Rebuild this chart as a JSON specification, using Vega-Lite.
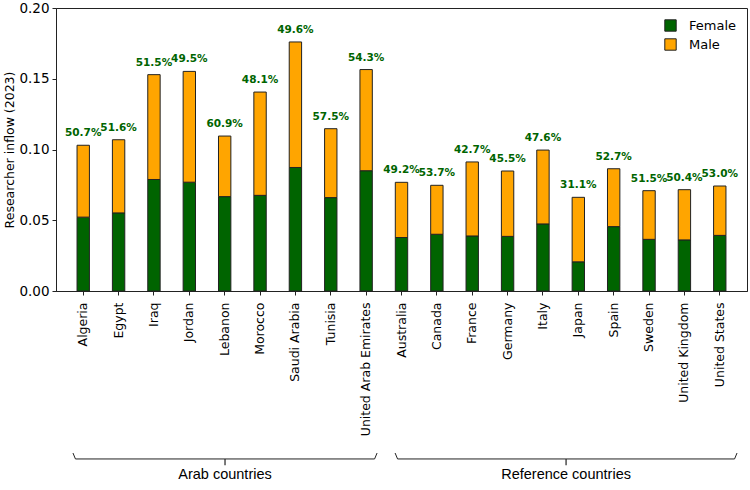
{
  "$schema": "https://vega.github.io/schema/vega-lite/v6.json",
  "autosize": "none",
  "width": 691,
  "height": 283,
  "padding": {"left": 56, "top": 8, "right": 3, "bottom": 199},
  "background": "white",
  "config": {
    "font": "DejaVu Sans",
    "view": {"stroke": "#222", "strokeWidth": 1},
    "axis": {"grid": false, "domainColor": "#222", "tickColor": "#222", "labelColor": "#000", "titleColor": "#000"}
  },
  "datasets": {
    "bars": [
      {"country": "Algeria", "sex": "Female", "value": 0.0522},
      {"country": "Algeria", "sex": "Male", "value": 0.0508},
      {"country": "Egypt", "sex": "Female", "value": 0.0552},
      {"country": "Egypt", "sex": "Male", "value": 0.0517},
      {"country": "Iraq", "sex": "Female", "value": 0.0788},
      {"country": "Iraq", "sex": "Male", "value": 0.0741},
      {"country": "Jordan", "sex": "Female", "value": 0.0769},
      {"country": "Jordan", "sex": "Male", "value": 0.0783},
      {"country": "Lebanon", "sex": "Female", "value": 0.0667},
      {"country": "Lebanon", "sex": "Male", "value": 0.0428},
      {"country": "Morocco", "sex": "Female", "value": 0.0676},
      {"country": "Morocco", "sex": "Male", "value": 0.0730},
      {"country": "Saudi Arabia", "sex": "Female", "value": 0.0873},
      {"country": "Saudi Arabia", "sex": "Male", "value": 0.0887},
      {"country": "Tunisia", "sex": "Female", "value": 0.0660},
      {"country": "Tunisia", "sex": "Male", "value": 0.0487},
      {"country": "United Arab Emirates", "sex": "Female", "value": 0.0850},
      {"country": "United Arab Emirates", "sex": "Male", "value": 0.0715},
      {"country": "Australia", "sex": "Female", "value": 0.0378},
      {"country": "Australia", "sex": "Male", "value": 0.0390},
      {"country": "Canada", "sex": "Female", "value": 0.0401},
      {"country": "Canada", "sex": "Male", "value": 0.0346},
      {"country": "France", "sex": "Female", "value": 0.0389},
      {"country": "France", "sex": "Male", "value": 0.0523},
      {"country": "Germany", "sex": "Female", "value": 0.0386},
      {"country": "Germany", "sex": "Male", "value": 0.0462},
      {"country": "Italy", "sex": "Female", "value": 0.0474},
      {"country": "Italy", "sex": "Male", "value": 0.0522},
      {"country": "Japan", "sex": "Female", "value": 0.0206},
      {"country": "Japan", "sex": "Male", "value": 0.0456},
      {"country": "Spain", "sex": "Female", "value": 0.0455},
      {"country": "Spain", "sex": "Male", "value": 0.0409},
      {"country": "Sweden", "sex": "Female", "value": 0.0365},
      {"country": "Sweden", "sex": "Male", "value": 0.0344},
      {"country": "United Kingdom", "sex": "Female", "value": 0.0361},
      {"country": "United Kingdom", "sex": "Male", "value": 0.0355},
      {"country": "United States", "sex": "Female", "value": 0.0393},
      {"country": "United States", "sex": "Male", "value": 0.0349}
    ],
    "labels": [
      {"country": "Algeria", "total": 0.1030, "label": "50.7%"},
      {"country": "Egypt", "total": 0.1069, "label": "51.6%"},
      {"country": "Iraq", "total": 0.1529, "label": "51.5%"},
      {"country": "Jordan", "total": 0.1552, "label": "49.5%"},
      {"country": "Lebanon", "total": 0.1095, "label": "60.9%"},
      {"country": "Morocco", "total": 0.1406, "label": "48.1%"},
      {"country": "Saudi Arabia", "total": 0.1760, "label": "49.6%"},
      {"country": "Tunisia", "total": 0.1147, "label": "57.5%"},
      {"country": "United Arab Emirates", "total": 0.1565, "label": "54.3%"},
      {"country": "Australia", "total": 0.0768, "label": "49.2%"},
      {"country": "Canada", "total": 0.0747, "label": "53.7%"},
      {"country": "France", "total": 0.0912, "label": "42.7%"},
      {"country": "Germany", "total": 0.0848, "label": "45.5%"},
      {"country": "Italy", "total": 0.0996, "label": "47.6%"},
      {"country": "Japan", "total": 0.0662, "label": "31.1%"},
      {"country": "Spain", "total": 0.0864, "label": "52.7%"},
      {"country": "Sweden", "total": 0.0709, "label": "51.5%"},
      {"country": "United Kingdom", "total": 0.0716, "label": "50.4%"},
      {"country": "United States", "total": 0.0742, "label": "53.0%"}
    ],
    "braces": [
      {"group": "Arab countries", "pos": -0.29, "lev": -0.1145, "k": 1},
      {"group": "Arab countries", "pos": -0.22, "lev": -0.1187, "k": 2},
      {"group": "Arab countries", "pos": 8.24, "lev": -0.1187, "k": 3},
      {"group": "Arab countries", "pos": 8.31, "lev": -0.1145, "k": 4},
      {"group": "Reference countries", "pos": 8.82, "lev": -0.1145, "k": 1},
      {"group": "Reference countries", "pos": 8.89, "lev": -0.1187, "k": 2},
      {"group": "Reference countries", "pos": 18.42, "lev": -0.1187, "k": 3},
      {"group": "Reference countries", "pos": 18.49, "lev": -0.1145, "k": 4}
    ],
    "groups": [
      {"group": "Arab countries", "mid": 4.01, "top": -0.1187, "tip": -0.1232, "textLev": -0.1248},
      {"group": "Reference countries", "mid": 13.655, "top": -0.1187, "tip": -0.1232, "textLev": -0.1248}
    ]
  },
  "layer": [
    {
      "layer": [
        {
          "data": {"name": "bars"},
          "mark": {"type": "bar", "stroke": "#222", "strokeWidth": 1},
          "encoding": {
            "x": {
              "field": "country", "type": "nominal", "sort": null,
              "scale": {"paddingInner": 0.65, "paddingOuter": 0.595},
              "axis": {"title": null, "labelAngle": -90, "labelAlign": "right", "labelBaseline": "middle", "labelFontSize": 12.5, "labelPadding": 7, "tickSize": 4}
            },
            "y": {
              "field": "value", "type": "quantitative", "stack": "zero",
              "scale": {"domain": [0, 0.2], "nice": false},
              "axis": {"title": "Researcher inflow (2023)", "titleFontSize": 12.5, "titleFontWeight": "normal", "titlePadding": 2, "labelFontSize": 13.5, "format": ".2f", "values": [0, 0.05, 0.1, 0.15, 0.2], "tickSize": 4, "labelPadding": 3}
            },
            "color": {
              "field": "sex", "type": "nominal",
              "scale": {"domain": ["Female", "Male"], "range": ["#006400", "#FFA500"]},
              "legend": {"title": null, "orient": "none", "legendX": 608, "legendY": 11, "labelFontSize": 13, "symbolType": "square", "symbolSize": 130, "symbolStrokeColor": "#222", "symbolStrokeWidth": 1, "symbolOpacity": 1, "rowPadding": 2, "labelOffset": 12}
            },
            "order": {"field": "sex", "sort": "ascending"}
          }
        },
        {
          "data": {"name": "labels"},
          "mark": {"type": "text", "font": "DejaVu Sans", "fontWeight": "bold", "fontSize": 10.5, "color": "#006400", "baseline": "alphabetic", "dy": -9},
          "encoding": {
            "x": {"field": "country", "type": "nominal", "sort": null},
            "y": {"field": "total", "type": "quantitative"},
            "text": {"field": "label"}
          }
        }
      ]
    },
    {
      "layer": [
        {
          "data": {"name": "braces"},
          "mark": {"type": "line", "color": "#222", "strokeWidth": 1, "clip": false},
          "encoding": {
            "x": {"field": "pos", "type": "quantitative", "scale": {"domain": [-0.77, 18.772], "nice": false, "zero": false}, "axis": null},
            "y": {"field": "lev", "type": "quantitative"},
            "detail": {"field": "group"},
            "order": {"field": "k"}
          }
        },
        {
          "data": {"name": "groups"},
          "mark": {"type": "rule", "color": "#222", "strokeWidth": 1.2, "clip": false},
          "encoding": {
            "x": {"field": "mid", "type": "quantitative"},
            "y": {"field": "top", "type": "quantitative"},
            "y2": {"field": "tip"}
          }
        },
        {
          "data": {"name": "groups"},
          "mark": {"type": "text", "font": "Liberation Sans", "fontSize": 14.5, "color": "#000", "baseline": "top", "clip": false},
          "encoding": {
            "x": {"field": "mid", "type": "quantitative"},
            "y": {"field": "textLev", "type": "quantitative"},
            "text": {"field": "group"}
          }
        }
      ]
    }
  ],
  "resolve": {"scale": {"x": "independent"}}
}
